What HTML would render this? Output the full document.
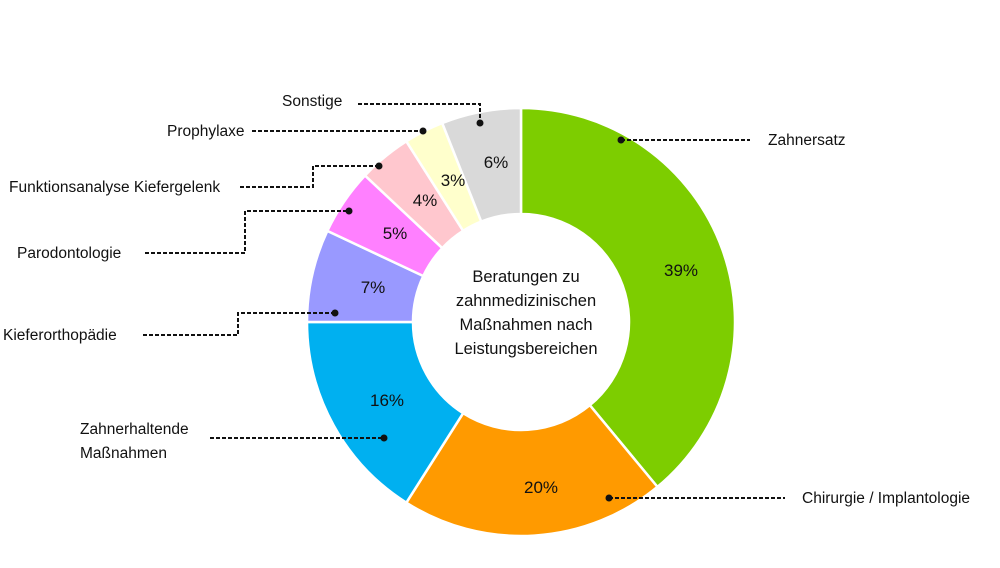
<!DOCTYPE html>
<html><head><meta charset="utf-8"><style>
body{margin:0;background:#fff}
svg text{font-family:"Liberation Sans",sans-serif;fill:#111}
</style></head><body>
<svg width="1000" height="563" xmlns="http://www.w3.org/2000/svg" id="s">
<g id="slices"></g>
<g font-size="16.5" text-anchor="middle">
<text x="526" y="282">Beratungen zu</text>
<text x="526" y="306">zahnmedizinischen</text>
<text x="526" y="330">Maßnahmen nach</text>
<text x="526" y="354">Leistungsbereichen</text>
</g>
<g font-size="17" text-anchor="middle">
<text x="681" y="276">39%</text>
<text x="541" y="493">20%</text>
<text x="387" y="406">16%</text>
<text x="373" y="293">7%</text>
<text x="395" y="239">5%</text>
<text x="425" y="206">4%</text>
<text x="453" y="186">3%</text>
<text x="496" y="168">6%</text>
</g>
<g stroke="#111" stroke-width="2" stroke-dasharray="4,2" fill="none">
<polyline points="358,104 480,104 480,123"/>
<polyline points="252,131 423,131"/>
<polyline points="240,187 313,187 313,166 379,166"/>
<polyline points="145,253 245,253 245,211 349,211"/>
<polyline points="143,335 238,335 238,313 335,313"/>
<polyline points="210,438 384,438"/>
<polyline points="609,498 785,498"/>
<polyline points="621,140 750,140"/>
</g>
<g fill="#111">
<circle cx="480" cy="123" r="3.5"/><circle cx="423" cy="131" r="3.5"/><circle cx="379" cy="166" r="3.5"/>
<circle cx="349" cy="211" r="3.5"/><circle cx="335" cy="313" r="3.5"/><circle cx="384" cy="438" r="3.5"/>
<circle cx="609" cy="498" r="3.5"/><circle cx="621" cy="140" r="3.5"/>
</g>
<g font-size="15.5">
<text x="282" y="106">Sonstige</text>
<text x="167" y="136">Prophylaxe</text>
<text x="9" y="192">Funktionsanalyse Kiefergelenk</text>
<text x="17" y="258">Parodontologie</text>
<text x="3" y="340">Kieferorthopädie</text>
<text x="80" y="434">Zahnerhaltende</text>
<text x="80" y="458">Maßnahmen</text>
<text x="768" y="145">Zahnersatz</text>
<text x="802" y="503">Chirurgie / Implantologie</text>
</g>
</svg>
<script>
var cx=521,cy=322,R=214,r=108;
var d=[[39,"#7dcd00"],[20,"#ff9a00"],[16,"#00b0f0"],[7,"#9999ff"],[5,"#ff80ff"],[4,"#ffc7ce"],[3,"#ffffcc"],[6,"#d9d9d9"]];
var g=document.getElementById("slices"),c=0,h="";
function p(a,rr){var t=a/100*2*Math.PI;return (cx+rr*Math.sin(t)).toFixed(2)+","+(cy-rr*Math.cos(t)).toFixed(2);}
d.forEach(function(s){var a0=c,a1=c+s[0];c=a1;var l=s[0]>50?1:0;
h+='<path d="M'+p(a0,R)+' A'+R+','+R+' 0 '+l+' 1 '+p(a1,R)+' L'+p(a1,r)+' A'+r+','+r+' 0 '+l+' 0 '+p(a0,r)+' Z" fill="'+s[1]+'" stroke="#fff" stroke-width="2.5"/>';});
g.innerHTML=h;
</script>
</body></html>
